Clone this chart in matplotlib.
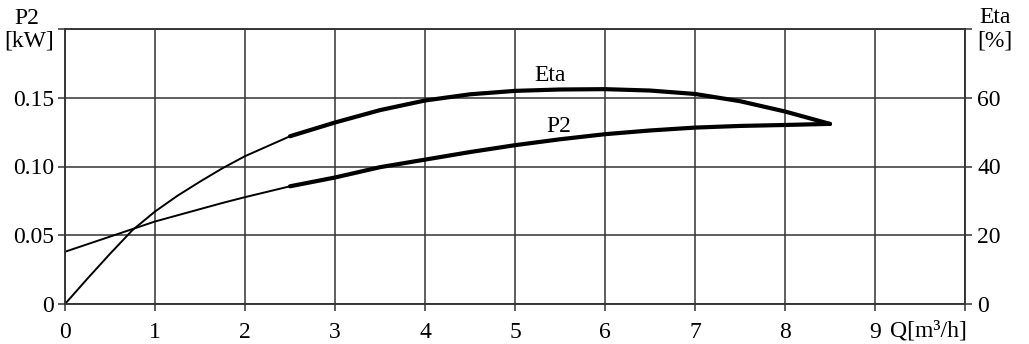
import matplotlib
matplotlib.use("Agg")
import matplotlib.pyplot as plt

# values
q = [0, 0.25, 0.5, 0.75, 1, 1.25, 1.5, 1.75, 2, 2.5, 3, 3.5, 4, 4.5, 5, 5.5, 6, 6.5, 7, 7.5, 8, 8.5]
p2 = [0.038, 0.0435, 0.049, 0.0545, 0.060, 0.0645, 0.069, 0.0735, 0.0777, 0.0856, 0.092, 0.0995,
      0.105, 0.1105, 0.1155, 0.1198, 0.1235, 0.1262, 0.1283, 0.1295, 0.1302, 0.131]
eta = [0, 7.4, 14.6, 21.5, 26.9, 31.5, 35.6, 39.5, 43.0, 48.8, 52.8, 56.4,
       59.2, 61.0, 62.0, 62.4, 62.5, 62.1, 61.1, 59.0, 56.0, 52.4]
split = 9  # index of Q=2.5 where the curves turn thick

x_ticks = list(range(11))
x_labels = [str(v) for v in range(10)] + [""]
p2_ticks = [0, 0.05, 0.10, 0.15, 0.20]
p2_labels = ["0", "0.05", "0.10", "0.15", ""]
eta_ticks = [0, 20, 40, 60, 80]
eta_labels = ["0", "20", "40", "60", ""]

plt.rcParams["font.family"] = ["Liberation Serif", "DejaVu Serif"]
grid_c = "#333333"
fs = 17

fig = plt.figure(figsize=(10.29, 3.44), dpi=100)
ax = fig.add_axes([65 / 1029, 1 - 304 / 344, 900 / 1029, 275 / 344])
ax2 = ax.twinx()

ax.set_xlim(0, 10)
ax.set_ylim(0, 0.2)
ax2.set_ylim(0, 80)

ax.set_xticks(x_ticks)
ax.set_xticklabels(x_labels)
ax.set_yticks(p2_ticks)
ax.set_yticklabels(p2_labels)
ax2.set_yticks(eta_ticks)
ax2.set_yticklabels(eta_labels)

ax.grid(True, color=grid_c, linewidth=1.1)
ax.set_axisbelow(True)
for a in (ax, ax2):
    for s in a.spines.values():
        s.set_color(grid_c)
        s.set_linewidth(1.1)
    a.tick_params(colors=grid_c, labelcolor="black", labelsize=fs,
                  length=5, width=1.1, direction="out")
ax.tick_params(axis="y", pad=3)
ax2.tick_params(axis="y", pad=4)
ax.tick_params(axis="x", pad=8)

# thin part then thick part
ax.plot(q[:split + 1], p2[:split + 1], color="black", linewidth=1.4, solid_capstyle="butt")
ax.plot(q[split:], p2[split:], color="black", linewidth=3.0, solid_capstyle="round")
ax2.plot(q[:split + 1], eta[:split + 1], color="black", linewidth=1.4, solid_capstyle="butt")
ax2.plot(q[split:], eta[split:], color="black", linewidth=3.0, solid_capstyle="round")

ax.text(5.39, 0.1622, "Eta", fontsize=fs, ha="center", va="baseline")
ax.text(5.49, 0.1251, "P2", fontsize=fs, ha="center", va="baseline")

fig.text(27 / 1029, 1 - 24 / 344, "P2", fontsize=fs, ha="center", va="baseline")
fig.text(29 / 1029, 1 - 46 / 344, "[kW]", fontsize=fs, ha="center", va="baseline")
fig.text(995 / 1029, 1 - 23 / 344, "Eta", fontsize=fs, ha="center", va="baseline")
fig.text(995 / 1029, 1 - 46 / 344, "[%]", fontsize=fs, ha="center", va="baseline")
fig.text(890 / 1029, 1 - 337 / 344, "Q[m³/h]", fontsize=fs, ha="left", va="baseline")

fig.savefig("out.png", dpi=100, facecolor="white")
